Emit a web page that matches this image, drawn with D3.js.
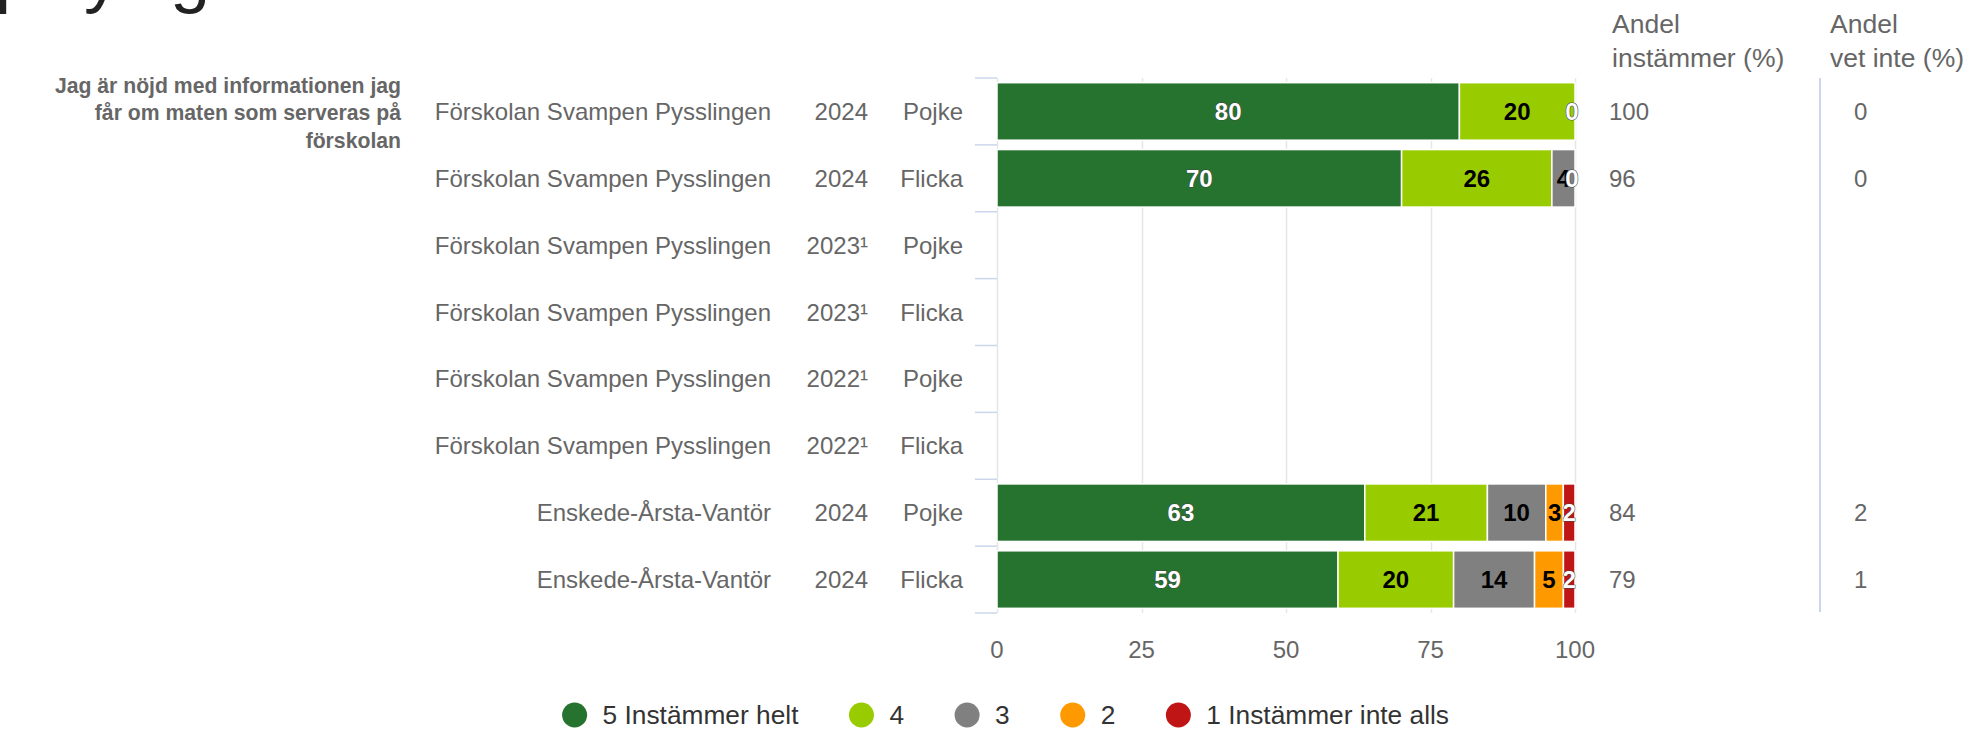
<!DOCTYPE html>
<html>
<head>
<meta charset="utf-8">
<script src="https://cdn.jsdelivr.net/npm/d3@7"></script>
<style>
  body { margin: 0; background: #fff; }
  svg { display: block; font-family: "Liberation Sans", Arial, sans-serif; }
</style>
</head>
<body>
<svg id="chart" width="1967" height="732"></svg>
<script>
// data
const schools = ['Förskolan Svampen Pysslingen', 'Förskolan Svampen Pysslingen', 'Förskolan Svampen Pysslingen',
  'Förskolan Svampen Pysslingen', 'Förskolan Svampen Pysslingen', 'Förskolan Svampen Pysslingen',
  'Enskede-Årsta-Vantör', 'Enskede-Årsta-Vantör'];
const years = ['2024', '2024', '2023¹', '2023¹', '2022¹', '2022¹', '2024', '2024'];
const genders = ['Pojke', 'Flicka', 'Pojke', 'Flicka', 'Pojke', 'Flicka', 'Pojke', 'Flicka'];
const seriesNames = ['5 Instämmer helt', '4', '3', '2', '1 Instämmer inte alls'];
const seriesColors = ['#267330', '#99cc00', '#808080', '#ff9900', '#bf1515'];
const labelColors = ['#fff', '#000', '#000', '#000', '#fff'];
const s5 = [80, 70, null, null, null, null, 63, 59];
const s4 = [20, 26, null, null, null, null, 21, 20];
const s3 = [0, 4, null, null, null, null, 10, 14];
const s2 = [0, 0, null, null, null, null, 3, 5];
const s1 = [0, 0, null, null, null, null, 2, 2];
const andelInstammer = ['100', '96', '', '', '', '', '84', '79'];
const andelVetInte = ['0', '0', '', '', '', '', '2', '1'];
const question = ['Jag är nöjd med informationen jag', 'får om maten som serveras på', 'förskolan'];
const xTicks = [0, 25, 50, 75, 100];

const svg = d3.select('#chart');
const gray = '#666666';

const rows = schools.map((s, i) => ({ i: i, v: [s5[i], s4[i], s3[i], s2[i], s1[i]] }));

const x = d3.scaleLinear().domain([0, 100]).range([997, 1575]);
const y = d3.scaleBand().domain(d3.range(rows.length)).range([78, 613])
  .paddingInner(0.14).paddingOuter(0.07);

// title above, cut off by the top edge
svg.append('g').selectAll('text')
  .data([['p', -5], ['y', 84], ['g', 170]])
  .join('text')
  .attr('x', d => d[1]).attr('y', -1)
  .attr('font-size', 72).attr('fill', '#222')
  .text(d => d[0]);

// grid
svg.append('g').selectAll('line')
  .data(xTicks)
  .join('line')
  .attr('x1', d => Math.round(x(d)) + 0.5).attr('x2', d => Math.round(x(d)) + 0.5)
  .attr('y1', y.range()[0]).attr('y2', y.range()[1])
  .attr('stroke', '#e6e6e6').attr('stroke-width', 1.5);

// category ticks
const bounds = d3.range(rows.length + 1).map(i => y.range()[0] + i * y.step());
svg.append('g').selectAll('line')
  .data(bounds)
  .join('line')
  .attr('x1', 975).attr('x2', 997)
  .attr('y1', d => d).attr('y2', d => d)
  .attr('stroke', '#ccd6eb').attr('stroke-width', 1.5);

// x tick labels
svg.append('g').selectAll('text')
  .data(xTicks)
  .join('text')
  .attr('x', d => x(d)).attr('y', 649)
  .attr('text-anchor', 'middle').attr('dominant-baseline', 'central')
  .attr('font-size', 24).attr('fill', gray)
  .text(d => d);

// row labels
const rowLab = svg.append('g').attr('font-size', 24).attr('fill', gray)
  .attr('text-anchor', 'end').attr('dominant-baseline', 'central');
rowLab.selectAll('.school').data(rows).join('text').attr('class', 'school')
  .attr('x', 771).attr('y', d => y(d.i) + y.bandwidth() / 2).text(d => schools[d.i]);
rowLab.selectAll('.year').data(rows).join('text').attr('class', 'year')
  .attr('x', 868).attr('y', d => y(d.i) + y.bandwidth() / 2).text(d => years[d.i]);
rowLab.selectAll('.gender').data(rows).join('text').attr('class', 'gender')
  .attr('x', 963).attr('y', d => y(d.i) + y.bandwidth() / 2).text(d => genders[d.i]);

// question label
svg.append('g').selectAll('text')
  .data(question)
  .join('text')
  .attr('x', 401).attr('y', (d, i) => 85 + i * 27.7)
  .attr('text-anchor', 'end').attr('dominant-baseline', 'central')
  .attr('font-size', 21.2).attr('font-weight', 'bold').attr('fill', gray)
  .text(d => d);

// stacked bars (percent)
const withData = rows.filter(r => r.v[0] !== null);
withData.forEach(r => {
  const total = d3.sum(r.v);
  let acc = 0;
  r.segs = r.v.map((v, k) => {
    const s = { k: k, v: v, x0: acc / total * 100, x1: (acc + v) / total * 100, i: r.i };
    acc += v;
    return s;
  });
});
const segs = withData.flatMap(r => r.segs);

svg.append('g').selectAll('rect')
  .data(segs.filter(s => s.v > 0))
  .join('rect')
  .attr('x', s => x(s.x0)).attr('width', s => x(s.x1) - x(s.x0))
  .attr('y', s => y(s.i)).attr('height', y.bandwidth())
  .attr('fill', s => seriesColors[s.k])
  .attr('stroke', '#fff').attr('stroke-width', 1.5);

const order = d3.range(5);
svg.append('g').selectAll('text')
  .data(order.flatMap(k => segs.filter(s => s.k === k)))
  .join('text')
  .attr('x', s => Math.min(x((s.x0 + s.x1) / 2), 1572))
  .attr('y', s => y(s.i) + y.bandwidth() / 2)
  .attr('text-anchor', 'middle').attr('dominant-baseline', 'central')
  .attr('font-size', 24).attr('font-weight', 'bold')
  .attr('fill', s => labelColors[s.k])
  .attr('stroke', s => labelColors[s.k] === '#fff' ? '#444' : 'none')
  .attr('stroke-width', 1).attr('paint-order', 'stroke')
  .text(s => s.v);

// right columns
const headers = [[1612, ['Andel', 'instämmer (%)']], [1830, ['Andel', 'vet inte (%)']]];
headers.forEach(h => {
  svg.append('g').selectAll('text')
    .data(h[1])
    .join('text')
    .attr('x', h[0]).attr('y', (d, i) => 24 + i * 34)
    .attr('dominant-baseline', 'central')
    .attr('font-size', 26.5).attr('fill', gray)
    .text(d => d);
});
svg.append('line')
  .attr('x1', 1820).attr('x2', 1820).attr('y1', 78).attr('y2', 612)
  .attr('stroke', '#ccd6eb').attr('stroke-width', 2);
svg.append('g').selectAll('text')
  .data(rows)
  .join('text')
  .attr('x', 1609).attr('y', d => y(d.i) + y.bandwidth() / 2)
  .attr('dominant-baseline', 'central').attr('font-size', 24).attr('fill', gray)
  .text(d => andelInstammer[d.i]);
svg.append('g').selectAll('text')
  .data(rows)
  .join('text')
  .attr('x', 1854).attr('y', d => y(d.i) + y.bandwidth() / 2)
  .attr('dominant-baseline', 'central').attr('font-size', 24).attr('fill', gray)
  .text(d => andelVetInte[d.i]);

// legend
const legend = svg.append('g');
let lx = 574.6;
seriesNames.forEach((name, k) => {
  legend.append('circle').attr('cx', lx).attr('cy', 715).attr('r', 12.5)
    .attr('fill', seriesColors[k]);
  const t = legend.append('text').attr('x', lx + 28).attr('y', 715)
    .attr('dominant-baseline', 'central').attr('font-size', 26.3).attr('fill', '#333')
    .text(name);
  lx += 28 + t.node().getComputedTextLength() + 63;
});
</script>
</body>
</html>
